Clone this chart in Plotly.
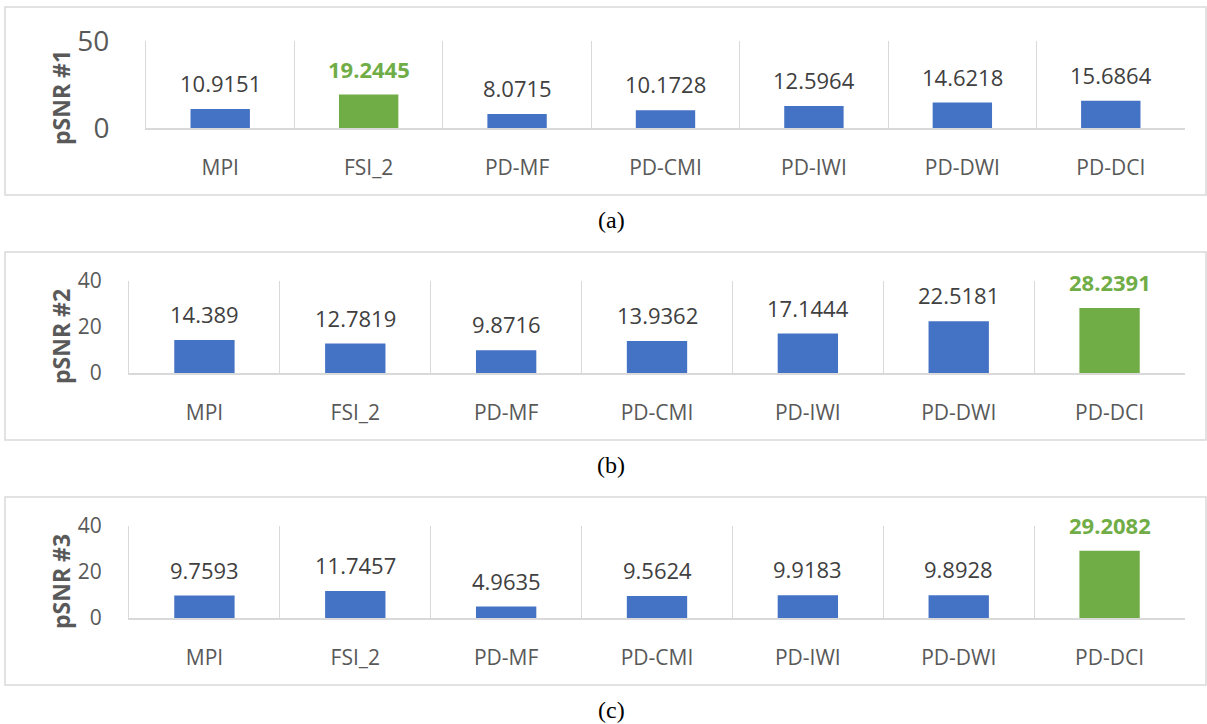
import plotly.graph_objects as go

# Methods compared in every panel
methods = ["MPI", "FSI_2", "PD-MF", "PD-CMI", "PD-IWI", "PD-DWI", "PD-DCI"]

# pSNR values per test case
psnr_1 = [10.9151, 19.2445, 8.0715, 10.1728, 12.5964, 14.6218, 15.6864]
psnr_2 = [14.389, 12.7819, 9.8716, 13.9362, 17.1444, 22.5181, 28.2391]
psnr_3 = [9.7593, 11.7457, 4.9635, 9.5624, 9.9183, 9.8928, 29.2082]

axis_titles = ["pSNR #1", "pSNR #2", "pSNR #3"]
captions = ["(a)", "(b)", "(c)"]
y_max = [50, 40, 40]
y_ticks = [[0, 50], [0, 20, 40], [0, 20, 40]]

W, H = 1207, 724
BLUE, GREEN = "#4472C4", "#70AD47"
GRID = "#D9D9D9"
TXT = "#595959"
LBL = "#404040"
FONT = "Open Sans"

# pixel layout of each panel: plot area (left, right, top, bottom), frame (top, bottom),
# axis-title centre, caption centre, tick font size, tick label gap
panels = [
    dict(l=146, r=1185, t=41, b=128, ft=7, fb=195, ty=98, cy=220, tfs=28, tgap=30),
    dict(l=129, r=1185, t=281, b=373, ft=252, fb=440, ty=337, cy=465, tfs=21, tgap=22),
    dict(l=129, r=1185, t=526, b=618, ft=497, fb=685, ty=582, cy=710, tfs=21, tgap=22),
]

def px(x):
    return x / W

def py(y):
    return 1 - y / H

fig = go.Figure()
series = [psnr_1, psnr_2, psnr_3]
annotations = []
shapes = []
layout_axes = {}

for i, (vals, p) in enumerate(zip(series, panels)):
    n = i + 1
    xa, ya = f"x{n}", f"y{n}"
    best = max(vals)
    colors = [GREEN if v == best else BLUE for v in vals]
    fig.add_trace(go.Bar(
        x=methods, y=vals, xaxis=xa, yaxis=ya,
        marker=dict(color=colors, line=dict(width=0)),
        width=0.4, hoverinfo="skip", showlegend=False,
    ))
    layout_axes[f"xaxis{n}"] = dict(
        domain=[px(p["l"]), px(p["r"])], anchor=ya, type="category",
        tickson="boundaries", showgrid=True, gridcolor=GRID, gridwidth=1,
        showline=True, linecolor=GRID, linewidth=1.5, ticks="",
        ticklabelstandoff=20, automargin=False,
        tickfont=dict(family=FONT, size=21, color=TXT), fixedrange=True,
    )
    layout_axes[f"yaxis{n}"] = dict(
        domain=[py(p["b"]), py(p["t"])], anchor=xa, range=[0, y_max[i]],
        tickvals=y_ticks[i], showgrid=False, zeroline=False,
        showline=True, linecolor=GRID, linewidth=1,
        ticks="", ticklabelstandoff=p["tgap"], automargin=False,
        tickfont=dict(family=FONT, size=p["tfs"], color=TXT), fixedrange=True,
    )
    # value labels above each bar
    for m, v in zip(methods, vals):
        hi = v == best
        annotations.append(dict(
            x=m, y=v, xref=xa, yref=ya,
            text=f"<b>{v}</b>" if hi else str(v), showarrow=False,
            yanchor="middle", yshift=26,
            font=dict(family=FONT, size=22, color=GREEN if hi else LBL),
        ))
    # rotated axis title
    annotations.append(dict(
        x=px(61), y=py(p["ty"]), xref="paper", yref="paper",
        text=f"<b>{axis_titles[i]}</b>", textangle=-90, showarrow=False,
        xanchor="center", yanchor="middle",
        font=dict(family=FONT, size=23, color=TXT),
    ))
    # caption under the panel
    annotations.append(dict(
        x=px(611), y=py(p["cy"]), xref="paper", yref="paper",
        text=captions[i], showarrow=False, xanchor="center", yanchor="middle",
        font=dict(family="Liberation Serif", size=24, color="#000000"),
    ))
    # chart frame
    shapes.append(dict(
        type="rect", xref="paper", yref="paper",
        x0=px(5), x1=px(1206), y0=py(p["fb"]), y1=py(p["ft"]),
        line=dict(color=GRID, width=1.5), fillcolor="rgba(0,0,0,0)", layer="below",
    ))

fig.update_layout(
    width=W, height=H, autosize=False,
    margin=dict(l=0, r=0, t=0, b=0, pad=0, autoexpand=False),
    paper_bgcolor="white", plot_bgcolor="white",
    annotations=annotations, shapes=shapes, **layout_axes,
)

fig.write_html("out.html", config={"displayModeBar": False})
